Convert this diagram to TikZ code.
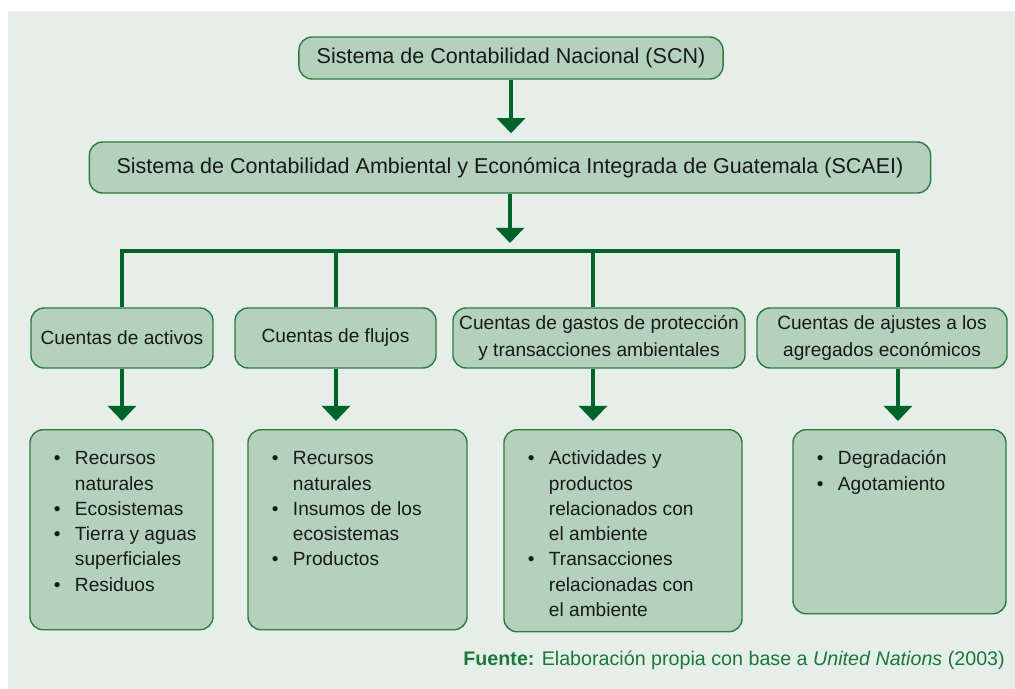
\documentclass[tikz,border=0pt]{standalone}
\usepackage{fontspec}
\setmainfont{Liberation Sans}
\usepackage{xcolor}
\usepackage{tikz}
\usetikzlibrary{arrows.meta}

\definecolor{fondo}{HTML}{E5EEE9}
\definecolor{relleno}{HTML}{B3D1BD}
\definecolor{borde}{HTML}{2E7B41}
\definecolor{oscuro}{HTML}{00642A}
\definecolor{fuente}{HTML}{1B7837}

\newcommand{\vineta}{\makebox[0.525cm][l]{\textbullet}}
\newcommand{\sigue}{\hspace*{0.525cm}}
\newcommand{\lista}[3]{\parbox[c][#1][t]{#2}{\raggedright\leftskip=0.6cm\relax\vspace*{12.3pt}\strut#3}}

\begin{document}
\begin{tikzpicture}[x=0.025cm,y=-0.025cm]
					\tikzstyle{caja}=[draw=borde,fill=relleno,line width=1pt,rounded corners=0.33cm,text=black!90]
					\tikzstyle{titulo}=[caja,minimum height=1.05cm,font=\fontsize{15.3}{19}\selectfont]
					\tikzstyle{cuenta}=[caja,minimum height=1.5cm,align=center,font=\fontsize{13.6}{18.6}\selectfont]
					\tikzstyle{hoja}=[caja,inner sep=0pt,anchor=north,font=\fontsize{13.6}{18}\selectfont]
					\tikzstyle{linea}=[draw=oscuro,line width=0.1cm]
					\tikzstyle{flecha}=[linea,-{Triangle[width=0.7cm,length=0.38cm]},shorten >=0.2cm]

					\useasboundingbox (0,0) rectangle (1015,689);
					\fill[fondo] (8,11) rectangle (1015,689);

					\node[titulo,minimum width=10.6cm](s1) at (511,58) {Sistema de Contabilidad Nacional (SCN)};
					\node[titulo,minimum width=21.025cm,minimum height=1.275cm](s2) at (510,167.5) {Sistema de Contabilidad Ambiental y Económica Integrada de Guatemala (SCAEI)};

					\node[cuenta,minimum width=4.55cm](c1) at (122,338) {Cuentas de activos};
					\node[cuenta,minimum width=5.025cm](c2) at (335.5,338) {Cuentas de flujos};
					\node[cuenta,minimum width=7.3cm](c3) at (599,338) {Cuentas de gastos de protección\\y transacciones ambientales};
					\node[cuenta,minimum width=6.25cm](c4) at (882,338) {Cuentas de ajustes a los\\agregados económicos};

					\node[hoja](l1) at (121.5,429) {\lista{5cm}{4.575cm}{\vineta Recursos\\ \sigue naturales\\ \vineta Ecosistemas\\ \vineta Tierra y aguas\\ \sigue superficiales\\ \vineta Residuos}};
					\node[hoja](l2) at (357.5,429) {\lista{5cm}{5.475cm}{\vineta Recursos\\ \sigue naturales\\ \vineta Insumos de los\\ \sigue ecosistemas\\ \vineta Productos}};
					\node[hoja](l3) at (623,429) {\lista{5.05cm}{5.95cm}{\vineta Actividades y\\ \sigue productos\\ \sigue relacionados con\\ \sigue el ambiente\\ \vineta Transacciones\\ \sigue relacionadas con\\ \sigue el ambiente}};
					\node[hoja](l4) at (899.5,429) {\lista{4.6cm}{5.325cm}{\vineta Degradación\\ \vineta Agotamiento}};

					\node[anchor=base east,inner sep=0pt,text=fuente,font=\fontsize{14}{17}\selectfont](f) at (1005,665) {\textbf{Fuente:} Elaboración propia con base a \textit{United Nations} (2003)};

					% columnas de las ramas
					\coordinate (k1) at (122,0);
					\coordinate (k2) at (336,0);
					\coordinate (k3) at (593,0);
					\coordinate (k4) at (898,0);
					\coordinate (barra) at (510,251);

					\draw[flecha] (s1.south) -- (s1.south |- s2.north);
					\draw[flecha] (s2.south) -- (s2.south |- barra);
					\draw[linea] (k1 |- c1.north) |- (k4 |- barra) -- (k4 |- c4.north);
					\foreach \i in {2,3}
						\draw[linea] (k\i |- barra) -- (k\i |- c\i.north);
					\foreach \i in {1,...,4}
						\draw[flecha] (k\i |- c\i.south) -- (k\i |- l\i.north);
				\end{tikzpicture}
\end{document}
